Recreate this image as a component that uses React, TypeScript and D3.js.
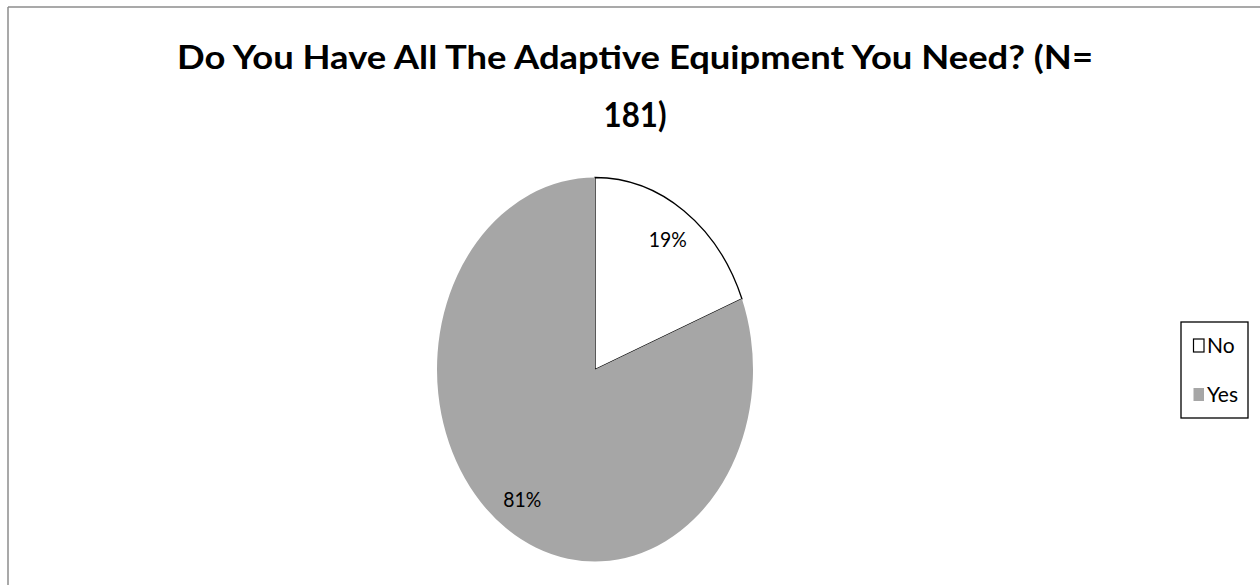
import React from "react";
import * as d3 from "d3";

const categories = ["No", "Yes"];
const values = [19, 81];
const colors = ["#ffffff", "#a6a6a6"];
const titleLines = ["Do You Have All The Adaptive Equipment You Need? (N=", "181)"];

const W = 1260;
const H = 585;
const cx = 595;
const cy = 369.5;
const rx = 158;
const ry = 192;
const font = "Lato, 'Open Sans', sans-serif";

export default function App() {
  const pie = d3.pie<number>().sort(null).value((d) => d);
  const arcs = pie(values);
  const arc = d3.arc<d3.PieArcDatum<number>>().innerRadius(0).outerRadius(rx);
  const labelArc = d3
    .arc<d3.PieArcDatum<number>>()
    .innerRadius(rx * 0.82)
    .outerRadius(rx * 0.82);
  const sy = ry / rx;
  const total = d3.sum(values);

  return (
    <svg
      width={W}
      height={H}
      style={{ position: "absolute", left: 0, top: 0, display: "block", background: "#fff" }}
    >
      <rect x={0} y={0} width={W} height={H} fill="#fff" />
      <line x1={8} y1={7} x2={W} y2={7} stroke="#8c8c8c" strokeWidth={1.5} />
      <line x1={8} y1={7} x2={8} y2={H} stroke="#8c8c8c" strokeWidth={1.5} />

      <text
        x={635}
        y={69}
        textAnchor="middle"
        fontFamily={font}
        fontWeight="bold"
        fontSize={32}
        textLength={916}
        lengthAdjust="spacingAndGlyphs"
        fill="#000"
      >
        {titleLines[0]}
      </text>
      <text
        x={635}
        y={127}
        textAnchor="middle"
        fontFamily={font}
        fontWeight="bold"
        fontSize={34}
        textLength={63}
        lengthAdjust="spacingAndGlyphs"
        fill="#000"
      >
        {titleLines[1]}
      </text>

      <g transform={`translate(${cx},${cy}) scale(1,${sy})`}>
        {arcs.map((a, i) => (
          <path
            key={categories[i]}
            d={arc(a) || ""}
            fill={colors[i]}
            stroke={i === 0 ? "#000" : "none"}
            strokeWidth={1.3}
            vectorEffect="non-scaling-stroke"
          />
        ))}
      </g>
      {arcs.map((a, i) => {
        const [lx, ly] = labelArc.centroid(a);
        return (
          <text
            key={"l" + categories[i]}
            x={cx + lx}
            y={cy + ly * sy}
            dy="0.35em"
            textAnchor="middle"
            fontFamily={font}
            fontSize={22}
            textLength={38}
            lengthAdjust="spacingAndGlyphs"
            fill="#000"
          >
            {Math.round((a.value / total) * 100) + "%"}
          </text>
        );
      })}

      <rect x={1181} y={322} width={67} height={96} fill="#fff" stroke="#000" strokeWidth={1.3} />
      {categories.map((c, i) => {
        const yMid = 345.5 + i * 49;
        return (
          <g key={"lg" + c}>
            <rect
              x={1193.5}
              y={yMid - 6.5}
              width={10.5}
              height={13}
              fill={colors[i]}
              stroke={i === 0 ? "#000" : "none"}
              strokeWidth={1.2}
            />
            <text
              x={1207}
              y={yMid + 7.5}
              fontFamily={font}
              fontSize={21}
              fill="#000"
            >
              {c}
            </text>
          </g>
        );
      })}
    </svg>
  );
}
